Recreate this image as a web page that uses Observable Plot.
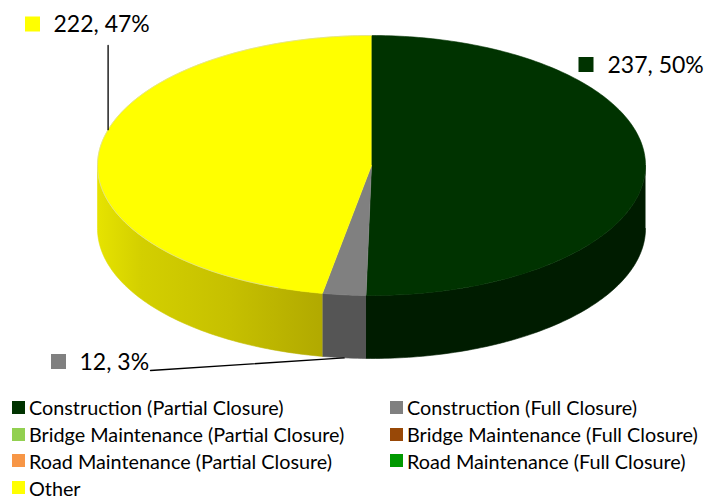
<!DOCTYPE html>
<html><head><meta charset="utf-8">
<script src="https://cdn.jsdelivr.net/npm/d3@7"></script>
<script src="https://cdn.jsdelivr.net/npm/@observablehq/plot@0.6"></script>
<style>
body{margin:0;background:#fff;font-family:Lato,sans-serif;}
#legend{display:grid;grid-template-columns:378px auto;padding-left:12px;font-size:19.8px;color:#000;}
.item{display:flex;align-items:center;white-space:nowrap;height:26.8px}
.sw{width:13px;height:13px;margin-right:4px;display:inline-block;flex:none}
.tx{display:inline-block;line-height:16px;height:16px}
</style></head><body>
<div id="chart"></div><div id="legend"></div>
<script>
// ---- data ----
const categories = ["Construction (Partial Closure)","Construction (Full Closure)","Bridge Maintenance (Partial Closure)","Bridge Maintenance (Full Closure)","Road Maintenance (Partial Closure)","Road Maintenance (Full Closure)","Other"];
const counts = [237, 12, 0, 0, 0, 0, 222];
const colors = ["#003300","#808080","#92d050","#984807","#f79646","#009900","#ffff00"];
const sideColors = ["#001c00","#555555","#5f8a30","#5e2c04","#b06a30","#006000","url(#yellowSide)"];

// ---- layout ----
const W = 707, H = 394;
const cx = 371, cy = 165, rx = 274, ry = 130, depth = 63;
const rad = d => d * Math.PI / 180;
const pt = (deg, dy = 0) => ({x: cx + rx * Math.sin(rad(deg)), y: cy - ry * Math.cos(rad(deg)) + dy});
const arc = (a, b, dy = 0) => {
  const n = Math.max(2, Math.ceil(Math.abs(b - a)));
  return d3.range(n + 1).map(i => pt(a + (b - a) * i / n, dy));
};

const total = d3.sum(counts);
let acc = 0;
const slices = categories.map((c, i) => {
  const a0 = acc / total * 360; acc += counts[i];
  const a1 = acc / total * 360;
  return {i, c, v: counts[i], a0, a1, pct: Math.round(counts[i] / total * 100)};
}).filter(s => s.v > 0);

const marks = [];
// sides (front half only, 90..270 deg)
for (const s of slices) {
  const a = Math.max(s.a0, 90), b = Math.min(s.a1, 270);
  if (b <= a) continue;
  const poly = [...arc(a, b), ...arc(b, a, depth)];
  marks.push(Plot.line(poly, {x: "x", y: "y", fill: sideColors[s.i], stroke: sideColors[s.i], strokeWidth: 0.6}));
}
// tops
for (const s of slices) {
  const poly = [{x: cx, y: cy}, ...arc(s.a0, s.a1)];
  marks.push(Plot.line(poly, {x: "x", y: "y", fill: colors[s.i], stroke: colors[s.i], strokeWidth: 0.6}));
}
// faint outline of top rim
marks.push(Plot.line(arc(200, 360), {x: "x", y: "y", stroke: "#d8d8b0", strokeWidth: 0.7}));

// data labels
const labelLayout = {
  0: {sx: 586, sy: 64.5, tx: 607, ty: 65},
  1: {sx: 58.5, sy: 361.5, tx: 79, ty: 362, leader: {from: {x: 150, y: 370}, angle: "mid", dy: depth}},
  6: {sx: 32.5, sy: 24, tx: 53, ty: 24, leader: {from: {x: 107.6, y: 45}, angle: 286, dy: 0}}
};
const labels = slices.map(s => ({...s, ...labelLayout[s.i], text: `${s.v}, ${s.pct}%`}));
for (const l of labels) {
  if (!l.leader) continue;
  const ang = l.leader.angle === "mid" ? (l.a0 + l.a1) / 2 : l.leader.angle;
  marks.push(Plot.line([l.leader.from, pt(ang, l.leader.dy)], {x: "x", y: "y", stroke: "#000", strokeWidth: 1.3}));
}
marks.push(Plot.rect(labels, {x1: d => d.sx - 7.5, x2: d => d.sx + 7.5, y1: d => d.sy - 7.5, y2: d => d.sy + 7.5, fill: d => colors[d.i]}));
marks.push(Plot.text(labels, {x: "tx", y: "ty", text: "text", textAnchor: "start", lineAnchor: "middle", fontSize: 23, fontFamily: "Lato", fill: "#000"}));

const chart = Plot.plot({
  width: W, height: H, margin: 0,
  x: {domain: [0, W], range: [0, W], axis: null},
  y: {domain: [0, H], range: [0, H], axis: null},
  style: {background: "#fff", overflow: "visible"},
  marks
});
d3.select(chart).insert("defs", ":first-child").html(
  `<linearGradient id="yellowSide" gradientUnits="userSpaceOnUse" x1="97" y1="0" x2="318" y2="0">
     <stop offset="0" stop-color="#e6e300"/>
     <stop offset="0.2" stop-color="#d3cf00"/>
     <stop offset="0.6" stop-color="#c6c000"/>
     <stop offset="1" stop-color="#b2aa00"/>
   </linearGradient>`);
document.getElementById("chart").appendChild(chart);

// legend
const lg = d3.select("#legend");
categories.forEach((c, i) => {
  const it = lg.append("div").attr("class", "item");
  it.append("span").attr("class", "sw").style("background", colors[i]);
  it.append("span").attr("class", "tx").text(c);
});
</script>
</body></html>
